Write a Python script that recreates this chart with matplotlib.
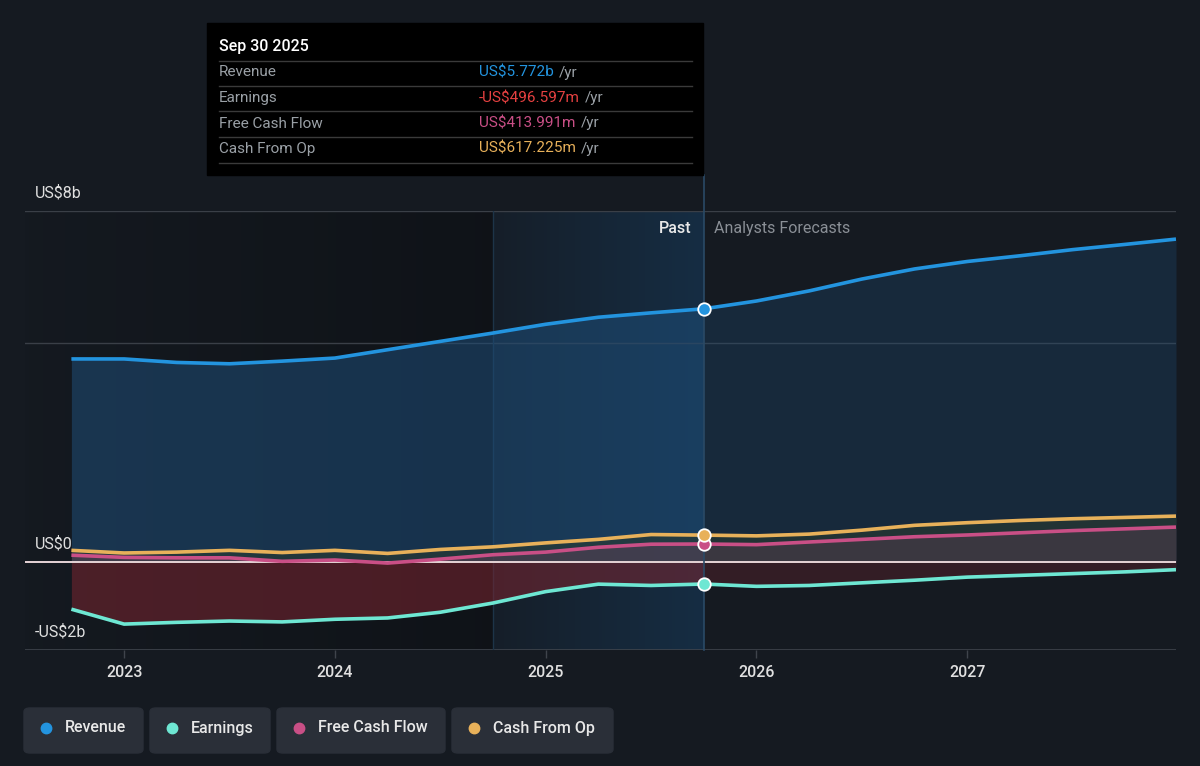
"""
Revenue / earnings / cash flow chart, past and analyst forecasts
"""
import numpy as np
import matplotlib.pyplot as plt
from matplotlib.patches import FancyBboxPatch, Rectangle
from matplotlib.lines import Line2D

plt.rcParams['font.family'] = ['Roboto', 'DejaVu Sans']

# data (US$ billions, decimal years)
past_x = [2022.75, 2023.0, 2023.25, 2023.5, 2023.75, 2024.0, 2024.25, 2024.5,
          2024.75, 2025.0, 2025.25, 2025.5, 2025.75]
fc_x = [2025.75, 2026.0, 2026.25, 2026.5, 2026.75, 2027.0, 2027.25, 2027.5,
        2027.75, 2027.99]

revenue_past = [4.63, 4.63, 4.55, 4.52, 4.58, 4.65, 4.84, 5.03, 5.22, 5.42, 5.58, 5.68, 5.772]
revenue_fc = [5.772, 5.95, 6.18, 6.45, 6.68, 6.85, 6.98, 7.12, 7.24, 7.36]

earnings_past = [-1.07, -1.41, -1.37, -1.34, -1.36, -1.30, -1.27, -1.14, -0.93, -0.67,
                 -0.50, -0.53, -0.497]
earnings_fc = [-0.497, -0.55, -0.53, -0.47, -0.41, -0.34, -0.30, -0.26, -0.22, -0.17]

fcf_past = [0.16, 0.11, 0.10, 0.10, 0.02, 0.05, -0.02, 0.07, 0.17, 0.23, 0.34, 0.41, 0.414]
fcf_fc = [0.414, 0.40, 0.46, 0.52, 0.58, 0.62, 0.67, 0.72, 0.76, 0.80]

cfo_past = [0.27, 0.21, 0.23, 0.27, 0.22, 0.27, 0.20, 0.29, 0.35, 0.44, 0.52, 0.63, 0.617]
cfo_fc = [0.617, 0.60, 0.64, 0.73, 0.84, 0.90, 0.95, 0.99, 1.02, 1.05]

series = ['Revenue', 'Earnings', 'Free Cash Flow', 'Cash From Op']
colors = ['#2394df', '#6ee7d3', '#c94f86', '#e8b15a']
tip_values = ['US$5.772b', '-US$496.597m', 'US$413.991m', 'US$617.225m']
tip_colors = ['#2394df', '#e64141', '#c94f86', '#e8b15a']

year_ticks = [2023, 2024, 2025, 2026, 2027]
y_grid = [5, 8]
y_labels = {8: 'US$8b', 0: 'US$0', -2: '-US$2b'}

bg = '#151a21'
x0, x1 = 2022.53, 2027.99
past_start, now = 2024.75, 2025.75

fig = plt.figure(figsize=(12, 7.66), dpi=100, facecolor=bg)
ax = fig.add_axes([25 / 1200, 1 - 650 / 766, 1151 / 1200, 439 / 766])
ax.set_facecolor(bg)
ax.set_xlim(x0, x1)
ax.set_ylim(-2, 8)

# darker band before the highlighted year, blue highlight for the last year
grad = np.linspace(0, 1, 256).reshape(1, -1)
dark = np.zeros((1, 256, 4))
dark[..., 3] = 0.03 + 0.25 * grad
ax.imshow(dark, extent=[x0, past_start, -2, 8], aspect='auto', zorder=0.2)
blue = np.zeros((1, 256, 4))
blue[..., 0], blue[..., 1], blue[..., 2] = 0.09, 0.32, 0.52
blue[..., 3] = 0.08 + 0.27 * grad
ax.imshow(blue, extent=[past_start, now, -2, 8], aspect='auto', zorder=0.3)

for g in y_grid:
    ax.axhline(g, color='#3a3f47', lw=1, zorder=0.5)
ax.axhline(-2, color='#3f444c', lw=1.2, zorder=0.5)

px = np.array(past_x)
fx = np.array(fc_x)

# fills
ax.fill_between(px, 0, revenue_past, color='#1e4d78', alpha=0.55, lw=0, zorder=1)
ax.fill_between(fx, 0, revenue_fc, color='#1e4d78', alpha=0.30, lw=0, zorder=1)
ax.fill_between(px, 0, earnings_past, color='#7a2530', alpha=0.55, lw=0, zorder=1.1)
ax.fill_between(fx, 0, earnings_fc, color='#7a2530', alpha=0.30, lw=0, zorder=1.1)
ax.fill_between(px, 0, cfo_past, color='#2a3a30', alpha=0.6, lw=0, zorder=1.2)
ax.fill_between(fx, 0, cfo_fc, color='#2a3a30', alpha=0.6, lw=0, zorder=1.2)
ax.fill_between(px, 0, fcf_past, color='#c94f86', alpha=0.18, lw=0, zorder=1.3)
ax.fill_between(fx, 0, fcf_fc, color='#c94f86', alpha=0.15, lw=0, zorder=1.3)

ax.axhline(0, color='#e6d4d6', lw=1.4, zorder=2)

for name, c, p, f in zip(series, colors,
                         [revenue_past, earnings_past, fcf_past, cfo_past],
                         [revenue_fc, earnings_fc, fcf_fc, cfo_fc]):
    ax.plot(px, p, color=c, lw=2.6, zorder=3, solid_capstyle='butt')
    ax.plot(fx, f, color=c, lw=2.6, zorder=3, solid_capstyle='butt')
    ax.plot([now], [p[-1]], 'o', ms=9, mfc=c, mec='white', mew=1.3, zorder=4)

# vertical markers
ax.plot([now, now], [-2, 8.82], color='#2a4a66', lw=1.2, zorder=2.5, clip_on=False)
ax.axvline(past_start, color='#1d3448', lw=1, zorder=0.6)

ax.text(now - 0.06, 7.6, 'Past', color='#e8e8e8', fontsize=11.5, fontweight='medium',
        ha='right', va='center', zorder=5)
ax.text(now + 0.05, 7.6, 'Analysts Forecasts', color='#8a8f96', fontsize=11.5,
        ha='left', va='center', zorder=5)

for v, lab in y_labels.items():
    ax.text(x0 + 0.047, v + 0.41, lab, color='#e0e0e0', fontsize=11.5, ha='left',
            va='center', zorder=5)

for s in ax.spines.values():
    s.set_visible(False)
ax.set_yticks([])
ax.set_xticks(year_ticks)
ax.set_xticklabels([str(y) for y in year_ticks])
ax.tick_params(axis='x', colors='#3f444c', length=6, width=1, labelcolor='#e0e0e0',
               labelsize=11.5, pad=5)
for t in ax.get_xticklabels():
    t.set_fontweight('medium')

# tooltip
fig.patches.append(Rectangle((207 / 1200, 1 - 175 / 766), 496 / 1200, 152 / 766,
                             transform=fig.transFigure, color='black', zorder=10))
fig.text(219 / 1200, 1 - 46 / 766, 'Sep 30 2025', color='white', fontsize=11.5,
         fontweight='medium', va='center', zorder=11)
for yy in [61, 86, 111, 137, 163]:
    fig.add_artist(Line2D([219 / 1200, 692 / 1200], [1 - yy / 766] * 2, color='#3a3a3a',
                          lw=1, transform=fig.transFigure, zorder=11))
for i, (name, val, c) in enumerate(zip(series, tip_values, tip_colors)):
    yy = 1 - (72.5 + i * 25.5) / 766
    fig.text(219 / 1200, yy, name, color='#9aa0a6', fontsize=11, va='center', zorder=11)
    t = fig.text(479 / 1200, yy, val, color=c, fontsize=11, va='center', zorder=11)
    fig.canvas.draw()
    bb = t.get_window_extent()
    fig.text(bb.x1 / 1200 + 5 / 1200, yy, '/yr', color='#9aa0a6', fontsize=11,
             va='center', zorder=11)

# legend buttons
boxes = [(24, 143), (150, 270), (277, 445), (452, 613)]
for (l, r), name, c in zip(boxes, series, colors):
    fig.patches.append(FancyBboxPatch((l / 1200, 1 - 753 / 766), (r - l) / 1200, 45 / 766,
                                      boxstyle='round,pad=0,rounding_size=0.005',
                                      transform=fig.transFigure, color='#2a2f38', zorder=10))
    fig.add_artist(Line2D([(l + 22) / 1200], [1 - 728 / 766], marker='o', ms=7.5, color=c,
                          transform=fig.transFigure, zorder=11))
    fig.text((l + 41) / 1200, 1 - 728 / 766, name, color='#e8e8e8', fontsize=11.5,
             fontweight='medium', va='center', zorder=11)

fig.savefig('out.png', dpi=100, facecolor=bg)
